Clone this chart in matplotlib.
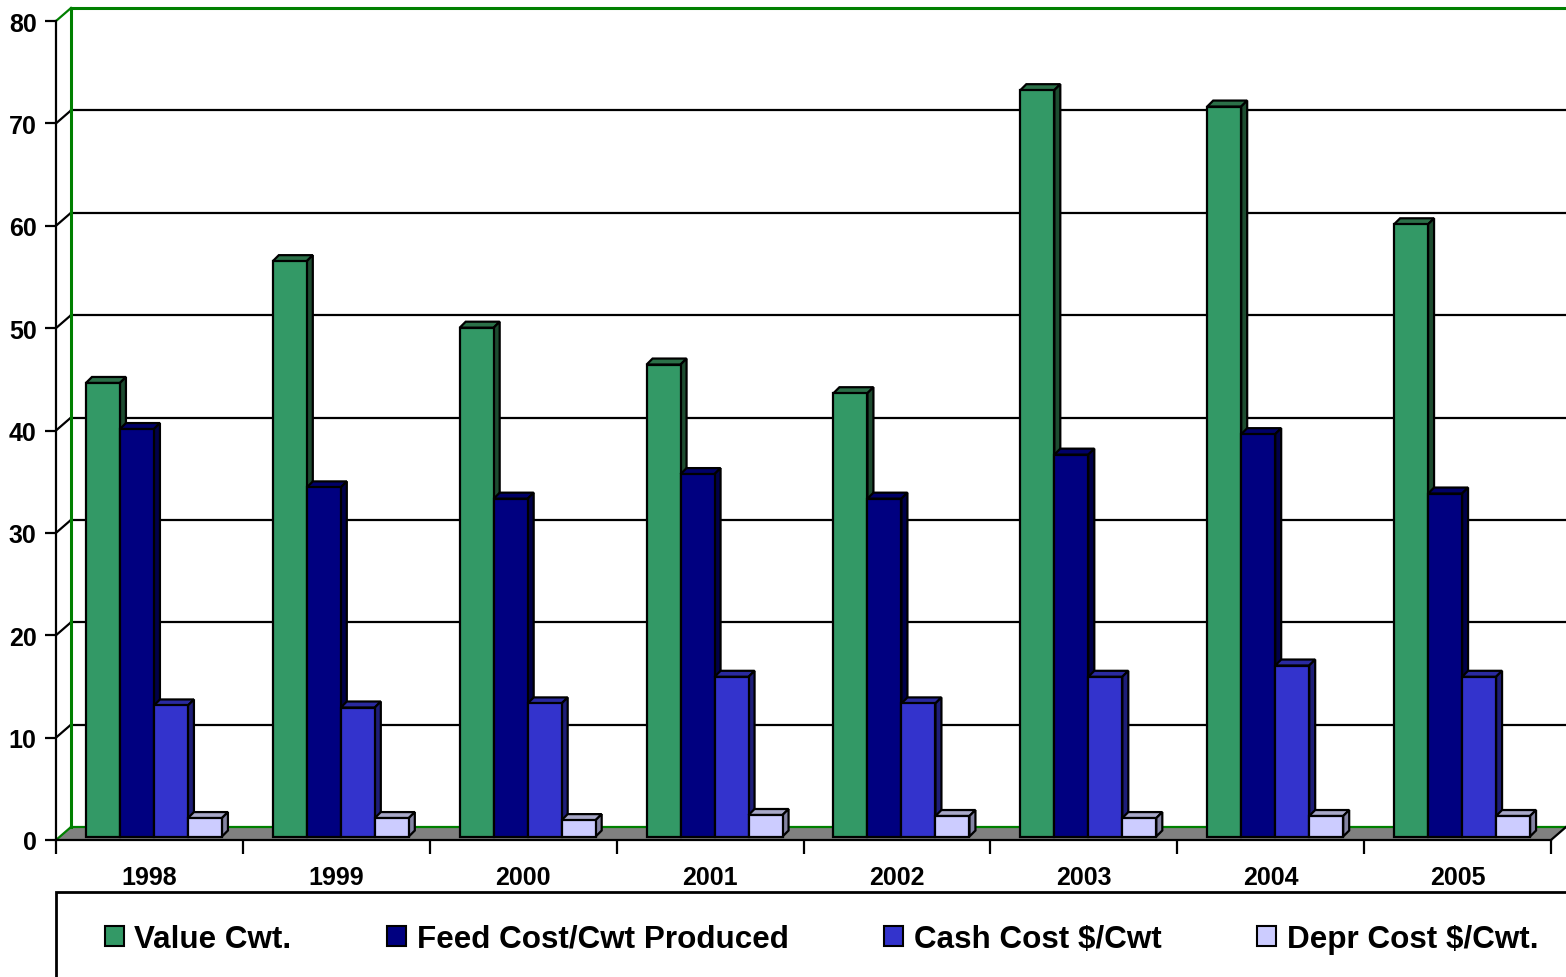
import matplotlib
matplotlib.use("Agg")
import matplotlib.pyplot as plt
from matplotlib.patches import Polygon, Patch, Rectangle
import numpy as np

plt.rcParams['font.family'] = ['Liberation Sans', 'DejaVu Sans']
plt.rcParams['font.weight'] = 'bold'

years = ['1998', '1999', '2000', '2001', '2002', '2003', '2004', '2005']
series_names = ['Value Cwt.', 'Feed Cost/Cwt Produced', 'Cash Cost $/Cwt', 'Depr Cost $/Cwt.']
value_cwt = [44.3, 56.2, 49.7, 46.1, 43.3, 72.9, 71.3, 59.8]
feed_cost = [39.8, 34.1, 33.0, 35.4, 33.0, 37.3, 39.3, 33.5]
cash_cost = [12.8, 12.6, 13.0, 15.6, 13.0, 15.6, 16.7, 15.6]
depr_cost = [1.8, 1.8, 1.6, 2.1, 2.0, 1.8, 2.0, 2.0]
yticks = [0, 10, 20, 30, 40, 50, 60, 70, 80]

front_colors = ['#339966', '#000080', '#3333CC', '#CCCCFF']
top_colors = ['#2B7048', '#000068', '#2A2AA0', '#A8A8C8']
side_colors = ['#1D4C30', '#00004A', '#1E1E78', '#8484A4']

W, H = 1566, 978
fig = plt.figure(figsize=(W / 100, H / 100), dpi=100)
fig.patch.set_facecolor('white')

# front plane of the chart (pixel layout)
L, R, B, T = 56, 1551, 841, 22
ax = fig.add_axes([L / W, (H - B) / H, (R - L) / W, (B - T) / H])
ncat = len(years)
ax.set_xlim(0, ncat)
ax.set_ylim(0, 80)
ax.set_facecolor('none')

pxx = (R - L) / ncat     # px per category unit
pxy = (B - T) / 80.0     # px per value unit
DX, DY = 15 / pxx, 13 / pxy          # wall depth
BX, BY = 4.5 / pxx, 3.5 / pxy        # bar front plane offset
SX, SY = 6 / pxx, 6 / pxy            # bar depth

lw = 1.6
green = '#008000'

# floor
floor = Polygon([(0, 0), (ncat, 0), (ncat + DX, DY), (DX, DY)], closed=True,
                facecolor='#808080', edgecolor='none', clip_on=False, zorder=1)
ax.add_patch(floor)
ax.plot([0, ncat], [0, 0], color='black', lw=lw, clip_on=False, zorder=2)
ax.plot([ncat, ncat + DX], [0, DY], color='black', lw=lw, clip_on=False, zorder=2)

# back wall gridlines and side-wall connectors
for v in yticks:
    c = green if v in (0, 80) else 'black'
    ax.plot([DX, ncat + DX + 0.2], [v + DY, v + DY], color=c, lw=lw + (0.6 if v == 80 else 0),
            clip_on=False, zorder=1.5)
    ax.plot([0, DX], [v, v + DY], color=c, lw=lw, clip_on=False, zorder=1.5)
ax.plot([DX, DX], [DY, 80 + DY], color=green, lw=lw + 0.6, clip_on=False, zorder=1.5)
ax.plot([0, 0], [0, 80], color='black', lw=lw, clip_on=False, zorder=2)

# bars
series = [value_cwt, feed_cost, cash_cost, depr_cost]
bw = 34 / pxx
gap_left = (1 - 4 * bw) / 2
x0 = np.arange(ncat)
for i, vals in enumerate(series):
    lefts = x0 + gap_left + i * bw + BX
    ax.bar(lefts, vals, width=bw, bottom=BY, align='edge', color=front_colors[i],
           edgecolor='black', linewidth=lw, zorder=10 + 3 * i + 2)
    for xl, v in zip(lefts, vals):
        top = v + BY
        ax.add_patch(Polygon([(xl, top), (xl + bw, top), (xl + bw + SX, top + SY), (xl + SX, top + SY)],
                             closed=True, facecolor=top_colors[i], edgecolor='black',
                             linewidth=lw, zorder=10 + 3 * i, clip_on=False))
        ax.add_patch(Polygon([(xl + bw, BY), (xl + bw + SX, BY + SY), (xl + bw + SX, top + SY), (xl + bw, top)],
                             closed=True, facecolor=side_colors[i], edgecolor='black',
                             linewidth=lw, zorder=10 + 3 * i, clip_on=False))

# axes styling
for s in ax.spines.values():
    s.set_visible(False)
ax.set_yticks(yticks)
ax.set_yticklabels([str(v) for v in yticks], fontsize=18, fontweight='bold')
ax.tick_params(axis='y', length=8, width=lw, pad=6, color='black')
ax.set_xticks(np.arange(ncat + 1))
ax.set_xticklabels([''] * (ncat + 1))
ax.tick_params(axis='x', which='major', length=10, width=lw, color='black')
ax.set_xticks(x0 + 0.5, minor=True)
ax.set_xticklabels(years, minor=True, fontsize=18, fontweight='bold')
ax.tick_params(axis='x', which='minor', length=0, pad=18)

# legend frame
fig.patches.append(Rectangle((L / W, -0.05), 1.1, (H - 893) / H + 0.05, transform=fig.transFigure,
                             facecolor='none', edgecolor='black', linewidth=2, zorder=0))
handles = [Patch(facecolor=c, edgecolor='black', linewidth=1.5) for c in front_colors]
fig.legend(handles, series_names, ncol=4, loc='center left',
           bbox_to_anchor=(105 / W, 1 - 940 / H), frameon=False,
           prop={'size': 22.6, 'weight': 'bold'}, handlelength=0.6, handleheight=0.6,
           handletextpad=0.33, columnspacing=3.06, borderpad=0, borderaxespad=0)

fig.savefig('out.png', dpi=100)
